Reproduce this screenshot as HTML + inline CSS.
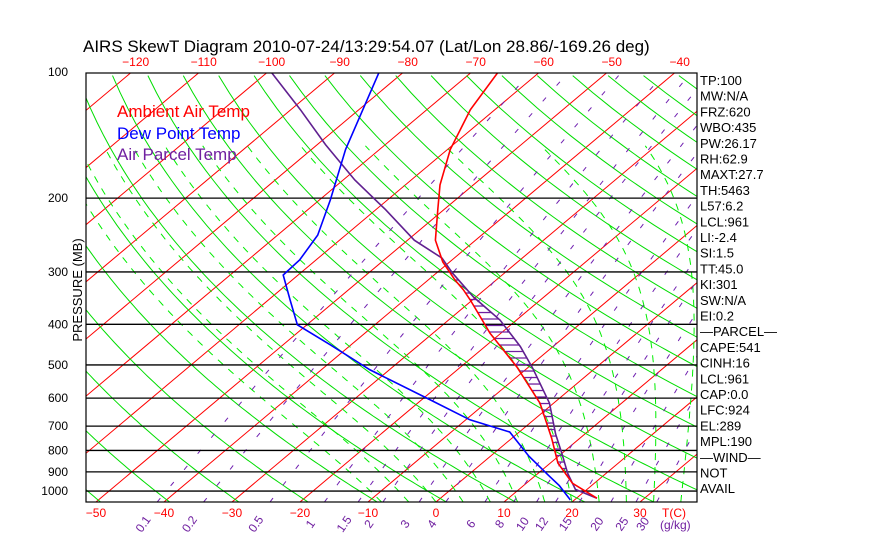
<!DOCTYPE html>
<html><head><meta charset="utf-8"><style>
html,body{margin:0;padding:0;background:#fff;}
svg{display:block;font-family:"Liberation Sans",sans-serif;}
</style></head><body>
<svg id="chart" width="870" height="560" viewBox="0 0 870 560" xmlns="http://www.w3.org/2000/svg">
<rect width="870" height="560" fill="#fff"/>
<defs><clipPath id="plotclip"><rect x="86" y="73" width="611" height="429"/></clipPath></defs>
<text x="83" y="52" font-size="17" fill="#000">AIRS SkewT Diagram 2010-07-24/13:29:54.07 (Lat/Lon 28.86/-169.26 deg)</text>
<text transform="translate(82,290) rotate(-90)" text-anchor="middle" font-size="13" fill="#000">PRESSURE (MB)</text>
<g id="grid" clip-path="url(#plotclip)"></g>
<g id="series" clip-path="url(#plotclip)"></g>
<rect x="86" y="73" width="611" height="429" fill="none" stroke="#000" stroke-width="1.2"/>
<g id="axes"></g>
<g font-size="17">
<text x="117" y="117" fill="#ff0000">Ambient Air Temp</text>
<text x="117" y="139" fill="#0000ff">Dew Point Temp</text>
<text x="117" y="160" fill="#7020a0">Air Parcel Temp</text>
</g>
<g id="stats" font-size="13" fill="#000"></g>
</svg>
<script>
const isobars=[200,300,400,500,600,700,800,900,1000];
const pressureLabels=[100,200,300,400,500,600,700,800,900,1000];
const bottomTempTicks=[-50,-40,-30,-20,-10,0,10,20,30];
const topTempTicks=[-120,-110,-100,-90,-80,-70,-60,-50,-40];
const mixRatios=[0.1,0.2,0.5,1,1.5,2,3,4,6,8,10,12,15,20,25,30];
const tempP=[100,123,153,186,213,252,284,314,331,350,420,506,617,747,857,958,1040];
const tempT=[-66.1,-63.6,-59.6,-54.9,-50.9,-45.9,-41,-36,-33.1,-30.3,-21.6,-11.7,-2.0,5.8,11.1,16.8,23];
const dewP=[100,153,202,245,281,305,350,401,448,514,606,676,723,825,916,971,1050];
const dewT=[-83.6,-75,-68.4,-64.1,-62.4,-62.2,-56.8,-51.4,-43,-32.8,-18.7,-9.4,-1.4,5.6,11.8,15.3,19.4];
const parcelP=[100,123,149,181,213,252,278,302,344,391,452,509,617,731,815,906,991,1040];
const parcelT=[-99.5,-88.6,-78.8,-68.3,-58.6,-49,-41.8,-37.6,-30.4,-22.4,-14.8,-9.2,-0.6,5.7,10.1,14.3,18.3,23];
const statLabels=["TP:100","MW:N/A","FRZ:620","WBO:435","PW:26.17","RH:62.9","MAXT:27.7","TH:5463","L57:6.2","LCL:961","LI:-2.4","SI:1.5","TT:45.0","KI:301","SW:N/A","EI:0.2","\u2014PARCEL\u2014","CAPE:541","CINH:16","LCL:961","CAP:0.0","LFC:924","EL:289","MPL:190","\u2014WIND\u2014","NOT","AVAIL"];

const NS="http://www.w3.org/2000/svg";
const PB=1062;
function yP(p){return 72+182*Math.log(p/100);}
function xT(T,p){return 436+6.8*T+(502-yP(p))*1.19;}
function mk(tag,attrs,parent){const e=document.createElementNS(NS,tag);for(const k in attrs)e.setAttribute(k,attrs[k]);parent.appendChild(e);return e;}
const grid=document.getElementById('grid'),series=document.getElementById('series'),axes=document.getElementById('axes'),stats=document.getElementById('stats');
function poly(pts){return pts.map(q=>q[0].toFixed(1)+','+q[1].toFixed(1)).join(' ');}

for(let T=-160;T<=50;T+=10){
  const e=mk('line',{x1:xT(T,PB),y1:yP(PB),x2:xT(T,100),y2:yP(100),stroke:'#ff0000','stroke-width':1},grid);
  
  
}
for(let th=180;th<=520;th+=10){
  const pts=[];for(let p=PB;p>=95;p-=10){pts.push([xT(th*Math.pow(p/1000,0.286)-273.15,p),yP(p)]);}
  const e=mk('polyline',{points:poly(pts),fill:'none',stroke:'#00dd00','stroke-width':1},grid);
  
  
}
function es(Tc){return 6.112*Math.exp(17.67*Tc/(Tc+243.5));}
for(let T0=-8;T0<=44;T0+=4){
  let T=T0+273.15,pts=[];
  for(let p=1062;p>=150;p-=4){
    pts.push([xT(T-273.15,p),yP(p)]);
    const e=es(T-273.15),rs=0.622*e/(p-e);
    const dTdp=(287*T+2.5e6*rs)/(p*(1004+2.5e6*2.5e6*rs*0.622/(287*T*T)));
    T-=dTdp*4;
  }
  const el=mk('polyline',{points:poly(pts),fill:'none',stroke:'#00ee00','stroke-width':1,'stroke-dasharray':'7,7'},grid);
  
  
}
function tdw(w,p){const e=w*p/(622+w);const l=Math.log(e/6.112);return 243.5*l/(17.67-l);}
mixRatios.forEach(w=>{
  const pts=[];for(let p=PB;p>=100;p-=10)pts.push([xT(tdw(w,p),p),yP(p)]);
  const e=mk('polyline',{points:poly(pts),fill:'none',stroke:'#7020b0','stroke-width':1,'stroke-dasharray':'5,16'},grid);
  
  
  const x=xT(tdw(w,PB),PB)-14;
  const t=mk('text',{x:x,y:528,'font-size':12,fill:'#7020a0','text-anchor':'middle',transform:'rotate(-55 '+x+' 524)'},axes);
  t.textContent=String(w);
  
  
});
isobars.forEach(p=>{
  const e=mk('line',{x1:86,x2:697,y1:yP(p),y2:yP(p),stroke:'#000','stroke-width':1.3},grid);
  
  
});
pressureLabels.forEach(p=>{
  const t=mk('text',{x:68,y:yP(p)+4,'font-size':12,'text-anchor':'end',fill:'#000'},axes);
  t.textContent=String(p);
  
  
});
bottomTempTicks.forEach(T=>{
  const t=mk('text',{x:xT(T,PB),y:517,'font-size':12,'text-anchor':'middle',fill:'#ff0000'},axes);
  t.textContent=T<0?'\u2212'+(-T):String(T);
  
  
});
topTempTicks.forEach(T=>{
  const t=mk('text',{x:xT(T,100)+4,y:66,'font-size':12,'text-anchor':'middle',fill:'#ff0000'},axes);
  t.textContent='\u2212'+(-T);
  
  
});
let tc=mk('text',{x:662,y:517,'font-size':12,fill:'#ff0000'},axes);tc.textContent='T(C)';


let wu=mk('text',{x:660,y:529,'font-size':12,fill:'#7020a0'},axes);wu.textContent='(g/kg)';



function interp(P,T,p){
  for(let i=0;i<P.length-1;i++){if(p>=P[i]&&p<=P[i+1]){const f=Math.log(p/P[i])/Math.log(P[i+1]/P[i]);return T[i]+f*(T[i+1]-T[i]);}}
  return null;
}
for(let y=yP(292);y<=yP(975);y+=6.5){
  const p=100*Math.exp((y-72)/182);
  const a=interp(tempP,tempT,p),b=interp(parcelP,parcelT,p);
  if(a!==null&&b!==null&&b>a){
    const e=mk('line',{x1:xT(a,p),x2:xT(b,p),y1:y,y2:y,stroke:'#7020a0','stroke-width':1.3},series);
    
    
  }
}
function drawSeries(P,T,color,name){
  const pts=P.map((p,i)=>[xT(T[i],p),yP(p)]);
  const e=mk('polyline',{points:poly(pts),fill:'none',stroke:color,'stroke-width':1.6},series);
  
  
}
drawSeries(parcelP,parcelT,'#602090','parcel-temp-line');
drawSeries(dewP,dewT,'#0000ff','dew-point-line');
drawSeries(tempP,tempT,'#ff0000','ambient-temp-line');

statLabels.forEach((s,i)=>{
  const t=mk('text',{x:700,y:85+i*15.7},stats);
  t.textContent=s;
  
  
});
</script>
</body></html>
